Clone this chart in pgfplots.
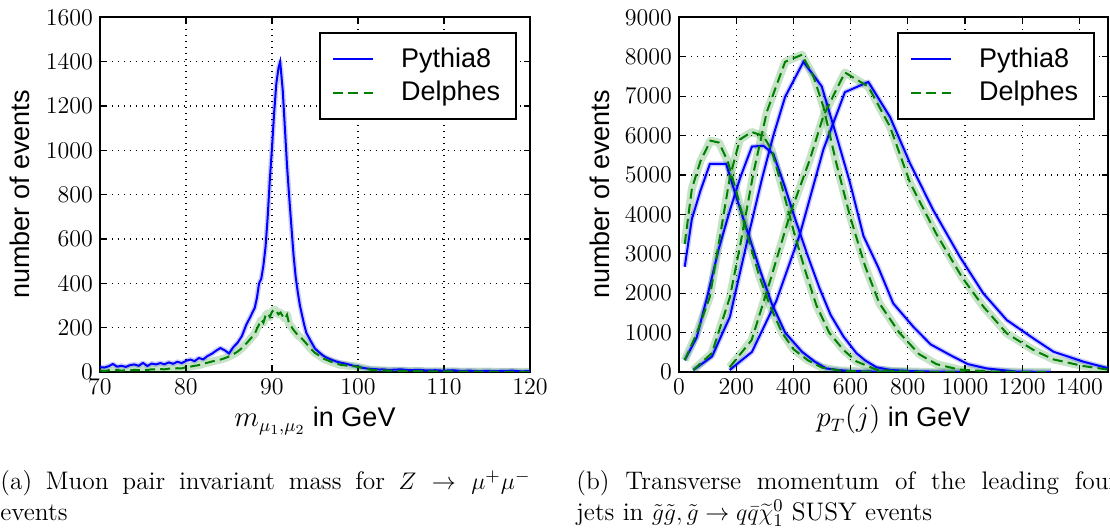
\documentclass[border=0pt]{standalone}
\usepackage{pgfplots}
\usepackage{pgfplotstable}
\pgfplotsset{compat=1.18}
\usepackage{fontspec}
\setsansfont{Liberation Sans}

\definecolor{mplblue}{rgb}{0,0,1}
\definecolor{mplgreen}{rgb}{0,0.5,0}

% ---- (a) muon pair invariant mass
\pgfplotstableread{
m v
70.0 22
70.5 20
71.0 26
71.5 36
72.0 24
72.5 28
73.0 23
73.5 31
74.0 34
74.5 28
75.0 41
75.5 27
76.0 38
76.5 34
77.0 40
77.5 35
78.0 43
78.5 37
79.0 46
79.5 40
80.0 50
80.5 56
81.0 49
81.5 63
82.0 57
82.5 72
83.0 82
83.5 96
84.0 108
84.5 98
85.0 84
85.5 112
86.0 132
86.5 162
87.0 212
87.5 250
88.0 290
88.25 335
88.5 400
88.75 420
89.0 480
89.25 565
89.5 700
89.75 870
90.0 1010
90.25 1170
90.5 1300
90.75 1370
90.95 1400
91.25 1270
91.5 1100
91.75 930
92.0 790
92.25 660
92.5 530
92.75 430
93.0 360
93.25 300
93.5 255
93.75 212
94.0 176
94.5 140
95.0 106
95.5 88
96.0 72
96.5 62
97.0 54
97.5 47
98.0 42
98.5 38
99.0 33
99.5 28
100.0 25
100.5 19
101.0 16
101.5 14
102.0 13
102.5 11
103.0 12
103.5 9
104.0 10
105.0 12
106.0 8
107.0 10
108.0 7
109.0 8
110.0 6
111.0 8
112.0 5
113.0 6
114.0 4
115.0 5
116.0 4
117.0 5
118.0 6
119.0 3
120.0 4
}\mumuPythia

\pgfplotstableread{
m v
70.0 7
70.5 4
71.0 8
71.5 5
72.0 9
72.5 6
73.0 8
73.5 7
74.0 10
74.5 8
75.0 11
75.5 9
76.0 12
76.5 11
77.0 13
77.5 12
78.0 15
78.5 14
79.0 17
79.5 16
80.0 22
80.5 24
81.0 28
81.5 31
82.0 37
82.5 42
83.0 47
83.5 52
84.0 56
84.5 62
85.0 70
85.5 80
86.0 92
86.5 108
87.0 128
87.5 150
88.0 172
88.25 195
88.5 215
88.75 235
89.0 222
89.25 255
89.5 265
89.75 248
90.0 272
90.25 282
90.5 276
90.75 260
91.0 268
91.25 252
91.5 240
91.75 258
92.0 215
92.25 205
92.5 190
92.75 178
93.0 166
93.5 150
94.0 128
94.5 105
95.0 86
95.5 74
96.0 60
96.5 52
97.0 44
97.5 38
98.0 32
98.5 30
99.0 27
99.5 26
100.0 23
100.5 18
101.0 14
101.5 10
102.0 9
103.0 7
104.0 6
105.0 5
106.0 4
107.0 4
108.0 3
110.0 3
112.0 2
114.0 2
116.0 1
118.0 1
120.0 1
}\mumuDelphes

% ---- (b) leading jet pT, jets 1..4
\pgfplotstableread{
pt v
177 50
255 510
340 1800
423 3500
505 5650
580 7100
662 7360
738 6470
808 5290
889 4107
982 2924
1064 1994
1146 1318
1239 853
1309 515
1414 262
1501 93
}\ptPone
\pgfplotstableread{
pt v
177 120
254 810
318 2300
388 4000
458 5400
505 6500
580 7600
662 7240
738 6220
808 4800
900 3500
990 2400
1064 1660
1146 980
1239 560
1309 320
1414 150
1501 60
}\ptDone
\pgfplotstableread{
pt v
50 50
115 390
178 1400
244 3500
290 4900
330 6000
371 6980
435 7870
499 7250
550 6000
598 4800
645 3450
697 2650
749 1740
819 1150
880 700
948 430
1010 200
1076 90
1180 10
1300 2
}\ptPtwo
\pgfplotstableread{
pt v
50 50
115 480
178 1900
213 3180
260 5040
307 6600
371 7870
430 8050
470 7500
505 6730
550 5300
598 3950
650 2700
700 1750
770 1000
840 450
900 200
980 60
1100 10
1300 1
}\ptDtwo
\pgfplotstableread{
pt v
20 300
62 880
100 1950
140 3150
180 4150
215 4950
255 5720
295 5740
330 5530
370 4700
410 3800
450 2950
490 2150
530 1450
575 900
620 480
650 300
690 120
740 50
800 25
900 8
1000 2
}\ptPthree
\pgfplotstableread{
pt v
20 300
62 980
108 1910
149 3690
178 4950
213 5900
254 6090
295 5990
324 5630
360 4700
400 3600
440 2600
480 1700
525 1000
575 560
620 270
690 60
750 25
850 5
1000 1
}\ptDthree
\pgfplotstableread{
pt v
20 2670
45 3880
75 4600
108 5280
165 5280
200 4450
240 3550
283 2590
324 1740
371 1000
430 515
475 260
515 90
560 50
600 25
700 8
800 2
}\ptPfour
\pgfplotstableread{
pt v
20 3250
45 4650
75 5350
110 5870
140 5820
170 5350
200 4600
240 3450
280 2450
320 1650
360 1000
400 580
450 300
500 110
560 40
650 10
800 2
}\ptDfour

\pgfplotsset{
  pyth/.style={mplblue, line width=1pt},
  delph/.style={mplgreen, line width=1pt, dash pattern=on 5pt off 2.6pt},
  pythband/.style={mplblue, line width=2.5pt, opacity=0.2, line join=round, forget plot},
  delphband/.style={mplgreen, line width=4pt, opacity=0.22, line join=round, forget plot},
  panel/.style={
    scale only axis,
    anchor=south west,
    height=177.35pt,
    axis line style={line width=0.8pt},
    tick style={black, line width=0.6pt},
    major tick length=3pt,
    grid=major,
    grid style={black, line width=0.6pt, dash pattern=on 0.6pt off 2.4pt},
    tick label style={font=\fontsize{12.5}{12.5}\selectfont},
    label style={font=\sffamily\fontsize{13.5}{16}\selectfont},
    xlabel style={at={(axis description cs:0.5,0)}, anchor=base, yshift=-27.5pt},
    ylabel={number of events},
    scaled ticks=false,
    /pgf/number format/1000 sep={},
    legend style={at={(1,1)}, anchor=north east, xshift=-6.5pt, yshift=-7.35pt,
      draw=black, line width=0.8pt, inner xsep=6pt, inner ysep=5.5pt, row sep=1.5pt,
      font=\sffamily\fontsize{13.5}{16}\selectfont,
      cells={anchor=west},
      /tikz/every odd column/.append style={column sep=11.5pt}},
    legend image code/.code={
      \draw[##1] (0pt,0pt) -- (20pt,0pt);
    },
  },
}

\begin{document}
\begin{tikzpicture}
\begin{axis}[panel,
  at={(50pt,78.5pt)}, width=215pt,
  xmin=70, xmax=120, ymin=0, ymax=1600,
  xtick={70,80,...,120}, ytick={0,200,...,1600},
  xlabel={$m_{\mu_1,\mu_2}$ in GeV},
  ylabel style={at={(axis description cs:-0.186,0.5)}, anchor=center},
]
  \addlegendimage{pyth}\addlegendentry{Pythia8}
  \addlegendimage{delph}\addlegendentry{Delphes}
  \addplot[pythband] table[x=m, y=v] {\mumuPythia};
  \addplot[delphband] table[x=m, y=v] {\mumuDelphes};
  \addplot[pyth, forget plot] table[x=m, y=v] {\mumuPythia};
  \addplot[delph, forget plot] table[x=m, y=v] {\mumuDelphes};
\end{axis}

\begin{axis}[panel,
  at={(339.5pt,78.5pt)}, width=214.5pt,
  xmin=0, xmax=1500, ymin=0, ymax=9000,
  xtick={0,200,...,1400}, ytick={0,1000,...,9000},
  xlabel={$p_T(j)$ in GeV},
  ylabel style={at={(axis description cs:-0.184,0.5)}, anchor=center},
]
  \addlegendimage{pyth}\addlegendentry{Pythia8}
  \addlegendimage{delph}\addlegendentry{Delphes}
  % uncertainty bands
  \addplot[delphband] table[x=pt, y=v] {\ptDfour};
  \addplot[delphband] table[x=pt, y=v] {\ptDthree};
  \addplot[delphband] table[x=pt, y=v] {\ptDtwo};
  \addplot[delphband] table[x=pt, y=v] {\ptDone};
  \addplot[pythband] table[x=pt, y=v] {\ptPfour};
  \addplot[pythband] table[x=pt, y=v] {\ptPthree};
  \addplot[pythband] table[x=pt, y=v] {\ptPtwo};
  \addplot[pythband] table[x=pt, y=v] {\ptPone};
  % central values
  \addplot[pyth, forget plot] table[x=pt, y=v] {\ptPfour};
  \addplot[pyth, forget plot] table[x=pt, y=v] {\ptPthree};
  \addplot[pyth, forget plot] table[x=pt, y=v] {\ptPtwo};
  \addplot[pyth, forget plot] table[x=pt, y=v] {\ptPone};
  \addplot[delph, forget plot] table[x=pt, y=v] {\ptDfour};
  \addplot[delph, forget plot] table[x=pt, y=v] {\ptDthree};
  \addplot[delph, forget plot] table[x=pt, y=v] {\ptDtwo};
  \addplot[delph, forget plot] table[x=pt, y=v] {\ptDone};
\end{axis}

\begin{scope}[every node/.style={anchor=base west, inner sep=0pt, font=\fontsize{12.7}{15.3}\selectfont}]
  \node at (0pt,19.5pt) {\makebox[265pt][s]{(a) Muon pair invariant mass for $Z\rightarrow\mu^+\mu^-$}};
  \node at (0pt,4.3pt) {events};
  \node at (288pt,19.5pt) {\makebox[271pt][s]{(b) Transverse momentum of the leading four}};
  \node at (288pt,4.3pt) {jets in $\tilde g\tilde g,\tilde g\rightarrow q\bar q\widetilde\chi_1^0$ SUSY events};
\end{scope}

\pgfresetboundingbox
\path[use as bounding box] (0pt,0pt) rectangle (555pt,264.5pt);
\end{tikzpicture}
\end{document}
